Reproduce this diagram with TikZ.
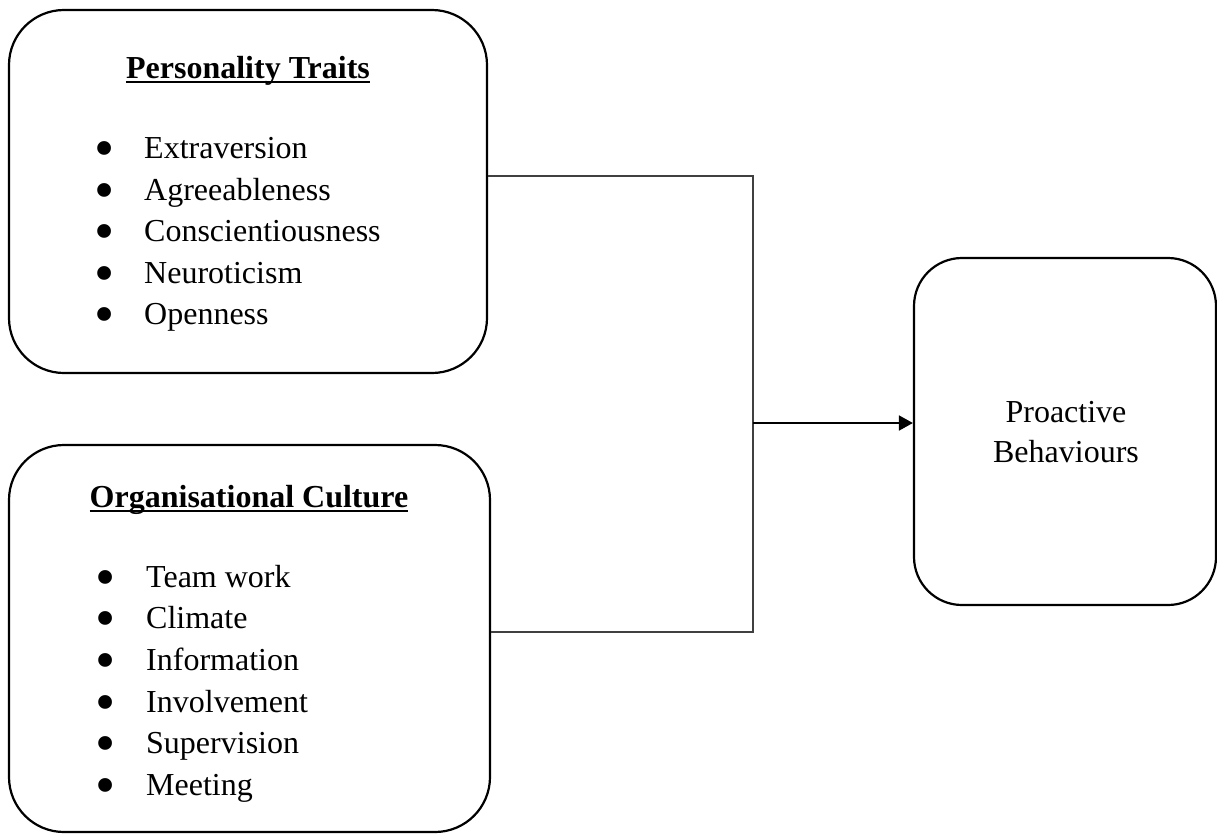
\documentclass[tikz,border=0pt]{standalone}
\usepackage{fontspec}
\setmainfont{Liberation Serif}
\usetikzlibrary{arrows.meta}
\newcommand{\bul}{\smash{\raisebox{-9pt}{\scalebox{1.8}{•}}}}
\begin{document}
\begin{tikzpicture}[x=1pt,y=-1pt,
 box/.style={draw,line width=2.2pt,inner sep=0pt},
 conn/.style={draw=black!75,line width=1.3pt},
 arr/.style={draw=black,line width=1.8pt,-{Triangle[length=14pt,width=15pt]}},
 item/.style={anchor=base west,inner sep=0pt,font=\fontsize{32}{38}\selectfont},
 ttl/.style={anchor=base,inner sep=0pt,font=\fontsize{32}{38}\selectfont\bfseries},
 uline/.style={line width=2pt},
 body/.style={anchor=base,inner sep=0pt,align=center,font=\fontsize{32}{40}\selectfont},
]
\useasboundingbox (0,0) rectangle (1217,835);
% boxes
\node[box,rounded corners=55pt,minimum width=478pt,minimum height=363pt] (pt) at (248,191.5) {};
\node[box,rounded corners=55pt,minimum width=481pt,minimum height=387pt] (oc) at (249.5,638.5) {};
\node[box,rounded corners=48pt,minimum width=302pt,minimum height=347pt] (pb) at (1065,431.5) {};
% titles
\node[ttl] (t1) at (248,78) {Personality Traits};
\draw[uline] ([yshift=-4pt]t1.base west) -- ([yshift=-4pt]t1.base east);
\node[ttl] (t2) at (249,507) {Organisational Culture};
\draw[uline] ([yshift=-4pt]t2.base west) -- ([yshift=-4pt]t2.base east);
% items
\foreach \t/\y [count=\i] in {Extraversion/158,Agreeableness/200,Conscientiousness/241,Neuroticism/283,Openness/324}
  \node[item] (a\i) at (94,\y) {\makebox[50pt][l]{\bul}\t};
\foreach \t/\y [count=\i] in {Team work/587,Climate/628,Information/670,Involvement/712,Supervision/753,Meeting/795}
  \node[item] (b\i) at (95,\y) {\makebox[51pt][l]{\bul}\t};
\node[body] (pbt) at (1066,462) {Proactive\\Behaviours};
% connectors
\coordinate (j1) at (753,176);
\coordinate (j2) at (753,632);
\coordinate (j3) at (753,423);
\draw[conn] (pt.east |- j1) -- (j1) -- (j2) -- (oc.east |- j2);
\draw[arr] (j3) -- (pb.west |- j3);
\end{tikzpicture}
\end{document}
